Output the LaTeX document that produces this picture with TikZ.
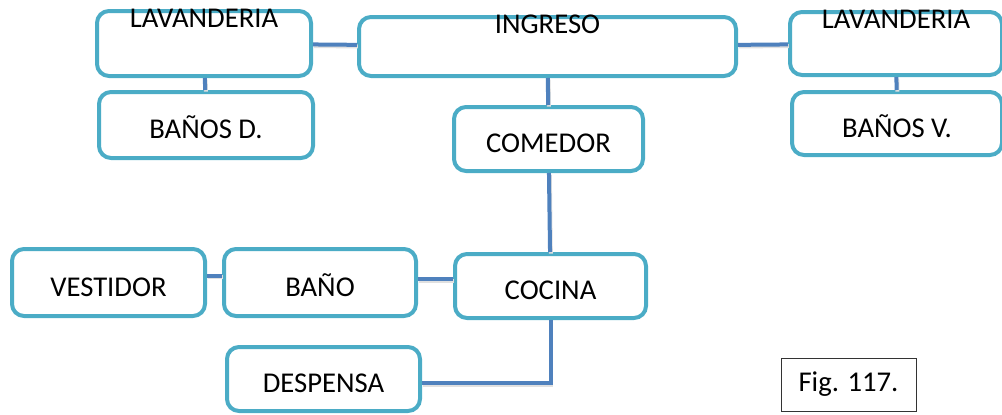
\documentclass[tikz,border=0pt]{standalone}
\usepackage{fontspec}
\setmainfont{Carlito}
\usetikzlibrary{positioning}
\definecolor{roomline}{RGB}{75,172,198}
\definecolor{linkline}{RGB}{79,129,189}

\begin{document}
\begin{tikzpicture}[x=0.75pt,y=0.75pt,yscale=-1,xscale=1,
    room/.style={draw=roomline, line width=3pt, rounded corners=9pt, fill=white, inner sep=0pt, text height=20.5pt, text depth=0pt, font=\fontsize{21.5}{26}\selectfont},
    roomsize/.style 2 args={minimum width=#1*0.75pt, minimum height=#2*0.75pt},
    toplabel/.style={label={[anchor=north, inner sep=0pt, font=\fontsize{21.5}{26}\selectfont]north:#1}},
    link/.style={draw=linkline, line width=3pt, preaction={draw=black!12, line width=3pt, transform canvas={shift={(0.6pt,-1.2pt)}}}},
    figbox/.style={draw=black!80, line width=0.75pt, inner sep=0pt, font=\fontsize{21.5}{26}\selectfont}]
    \useasboundingbox (0,0) rectangle (1002,414);

    %Shape: top row
    \node [room, roomsize={214}{65}, toplabel=LAVANDERIA] (lavD) at (204,43.5) {};
    \node [room, roomsize={377}{59}, toplabel=INGRESO] (ingreso) at (547.5,46.5) {};
    \node [room, roomsize={212}{63}, toplabel=LAVANDERIA] (lavV) at (896,43.5) {};
    %Shape: second row
    \node [room, roomsize={214}{66}] (banosD) at (206,125) {BAÑOS D.};
    \node [room, roomsize={189}{64}] (comedor) at (548.5,139) {COMEDOR};
    \node [room, roomsize={210}{63}] (banosV) at (897,123.5) {BAÑOS V.};
    %Shape: kitchen row
    \node [room, roomsize={193}{67}] (vestidor) at (108.5,282.5) {VESTIDOR};
    \node [room, roomsize={192}{67}] (bano) at (320,282.5) {BAÑO};
    \node [room, roomsize={191}{64}] (cocina) at (550.5,286) {COCINA};
    \node [room, roomsize={193}{64}] (despensa) at (323.5,379) {DESPENSA};

    % Text Node
    \node [figbox, minimum width=135*0.75pt, minimum height=53*0.75pt] (fig) at (848.5,384.5) {Fig. 117.};

    %Connectors
    \draw [link] (lavD) -- (ingreso);
    \draw [link] (ingreso) -- (lavV);
    \draw [link] (lavD) -- (banosD);
    \draw [link] (lavV) -- (banosV);
    \draw [link] (ingreso) -- (comedor);
    \draw [link] (comedor) -- (cocina);
    \draw [link] ([yshift=-5pt]vestidor.east) -- ([yshift=-5pt]bano.west);
    \draw [link] ([yshift=-2.5pt]bano.east) -- ([yshift=-2.5pt]bano.east -| cocina.west);
    \draw [link] (cocina.south) |- ([yshift=3pt]despensa.east);

\end{tikzpicture}
\end{document}
